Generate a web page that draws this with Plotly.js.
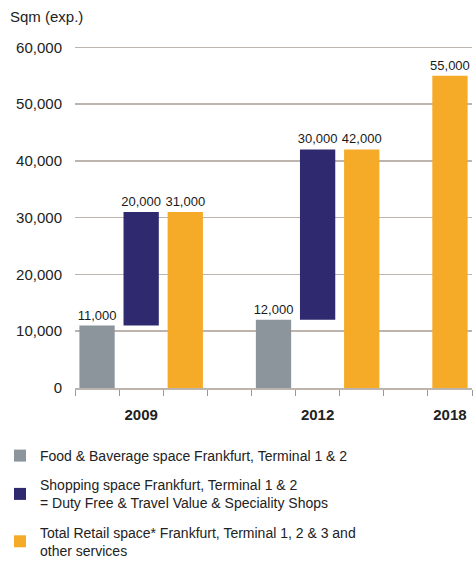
<!DOCTYPE html>
<html><head><meta charset="utf-8">
<script src="https://cdn.plot.ly/plotly-3.0.1.min.js"></script>
<style>html,body{margin:0;padding:0;background:#fff;}#chart{width:475px;height:561px;}</style>
</head><body><div id="chart"></div>
<script>
// ---- data ----
const years = ['2009', '2012', '2018'];
const foodBeverage = [11000, 12000, null];
const shopping = [20000, 30000, null];          // stacked on top of food & beverage
const totalRetail = [31000, 42000, 55000];
const seriesNames = [
  'Food & Baverage space Frankfurt, Terminal 1 & 2',
  'Shopping space Frankfurt, Terminal 1 & 2<br>= Duty Free & Travel Value & Speciality Shops',
  'Total Retail space* Frankfurt, Terminal 1, 2 & 3 and<br>other services'
];

// ---- layout of slots (positions) ----
const groupStart = [0, 4, 6];   // slot where each year's group starts
const seriesOffset = [0, 1, 2];
const colors = ['#8b959b', '#2f2a70', '#f5ab28'];

function xs(s) { return years.map((y, i) => groupStart[i] + seriesOffset[s]); }
const fmt = v => v == null ? '' : v.toLocaleString('en-US');

const font = 'Liberation Sans, Arial, sans-serif';
const common = {type: 'bar', width: 0.8, textposition: 'outside', cliponaxis: false,
  constraintext: 'none',
  textfont: {family: font, size: 13, color: '#1a1a1a'}, hoverinfo: 'skip'};

const traces = [
  Object.assign({}, common, {name: seriesNames[0], legendgroup: 'g0', x: xs(0), y: foodBeverage,
    text: foodBeverage.map(fmt), marker: {color: colors[0]}}),
  Object.assign({}, common, {name: seriesNames[1], legendgroup: 'g1', x: xs(1), y: shopping, base: foodBeverage,
    text: shopping.map(fmt), marker: {color: colors[1]}}),
  Object.assign({}, common, {name: seriesNames[2], legendgroup: 'g2', x: xs(2), y: totalRetail,
    text: totalRetail.map(fmt), marker: {color: colors[2]}})
];

// label positions: center of the bars present for each year
const labelPos = years.map((y, i) => {
  const present = [foodBeverage[i], shopping[i], totalRetail[i]]
    .map((v, s) => v == null ? null : groupStart[i] + seriesOffset[s]).filter(v => v != null);
  return present.reduce((a, b) => a + b, 0) / present.length;
});

const W = 475, H = 561;
const legendTop = 440;                 // px from top of the figure
const grid = '#bdb5ad';
const layout = {
  width: W, height: H,
  margin: {l: 75, r: 3, t: 45, b: 173},
  paper_bgcolor: '#fff', plot_bgcolor: '#fff',
  barmode: 'overlay',
  font: {family: font, color: '#222'},
  showlegend: true,
  xaxis: {
    range: [-0.5, 8.5], tickmode: 'array', tickvals: labelPos, ticktext: years,
    ticks: '', showgrid: false, zeroline: false, showline: true, linecolor: grid, linewidth: 1.5,
    tickfont: {family: font, size: 15, color: '#222', weight: 'bold'},
    ticklabelstandoff: 12,
    minor: {tickmode: 'linear', tick0: -0.5, dtick: 1, ticks: 'outside', ticklen: 6,
      tickcolor: '#999', tickwidth: 1, showgrid: false}
  },
  yaxis: {
    range: [0, 60400], tickmode: 'linear', tick0: 0, dtick: 10000, tickformat: ',d',
    showgrid: true, gridcolor: grid, gridwidth: 1.5, zeroline: false, showline: false,
    ticks: '', ticklabelstandoff: 12,
    tickfont: {family: font, size: 15, color: '#222'}
  },
  legend: {
    orientation: 'v', xref: 'paper', yref: 'container',
    x: -0.19, xanchor: 'left', y: 1 - legendTop / H, yanchor: 'top',
    font: {family: font, size: 14, color: '#222'}, tracegroupgap: 8, traceorder: 'grouped',
    itemclick: false, itemwidth: 30, bgcolor: 'rgba(0,0,0,0)'
  },
  annotations: [
    {text: 'Sqm (exp.)', xref: 'paper', yref: 'paper', x: -0.168, y: 1.082,
     xanchor: 'left', yanchor: 'middle', showarrow: false,
     font: {family: font, size: 15, color: '#222'}}
  ]
};

Plotly.newPlot('chart', traces, layout, {staticPlot: true, displayModeBar: false});
</script></body></html>
